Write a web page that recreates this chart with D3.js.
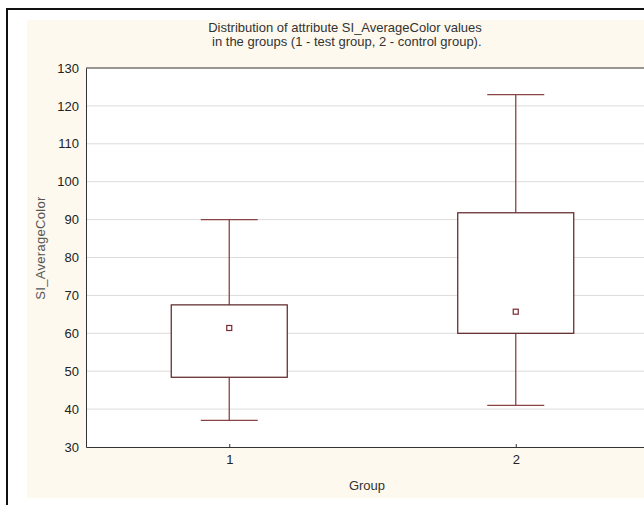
<!DOCTYPE html>
<html>
<head>
<meta charset="utf-8">
<script src="https://cdn.jsdelivr.net/npm/d3@7"></script>
<style>
  body { margin: 0; background: #fff; }
  text { font-family: "Liberation Sans", Arial, sans-serif; }
</style>
</head>
<body>
<div id="chart"></div>
<script>
// values
const groups = ["1", "2"];
const whiskerLow = [37, 41];
const boxLow = [48.4, 60];
const means = [61.4, 65.7];
const boxHigh = [67.5, 91.8];
const whiskerHigh = [90, 123];
const yTicks = [30, 40, 50, 60, 70, 80, 90, 100, 110, 120, 130];

const width = 644, height = 505;
const plot = { left: 86, top: 68, right: 659, bottom: 447 };

const svg = d3.select('#chart')
    .append('svg')
    .attr('width', width)
    .attr('height', height);

// outer frame + cream panel
svg.append('rect')
    .attr('x', 27).attr('y', 20)
    .attr('width', 640).attr('height', 478)
    .attr('fill', '#fdf9ee');
svg.append('path')
    .attr('d', `M7,${height + 5} V9 H${width + 5}`)
    .attr('fill', 'none')
    .attr('stroke', '#111')
    .attr('stroke-width', 2);

let x = d3.scaleLinear()
    .domain([0.5, 2.5])
    .range([plot.left, plot.right]);

let y = d3.scaleLinear()
    .domain([30, 130])
    .range([plot.bottom, plot.top]);

svg.append('rect')
    .attr('x', plot.left).attr('y', plot.top)
    .attr('width', plot.right - plot.left)
    .attr('height', plot.bottom - plot.top)
    .attr('fill', '#fff');

// grid
svg.append('g')
    .selectAll('line')
    .data(yTicks.slice(1, -1))
    .join('line')
    .attr('x1', plot.left).attr('x2', plot.right)
    .attr('y1', d => y(d)).attr('y2', d => y(d))
    .attr('stroke', '#dcdcdc');

// axes
const yAxis = svg.append('g')
    .attr('transform', `translate(${plot.left},0)`)
    .call(d3.axisLeft(y).tickValues(yTicks).tickSize(0).tickPadding(7));
yAxis.select('.domain').attr('stroke', '#333');
yAxis.selectAll('text').attr('font-size', 13).attr('fill', '#222');

const xAxis = svg.append('g')
    .attr('transform', `translate(0,${plot.bottom})`)
    .call(d3.axisBottom(x).tickValues([1, 2]).tickFormat(d => groups[d - 1]).tickSizeInner(-3).tickSizeOuter(0).tickPadding(8));
xAxis.select('.domain').attr('stroke', '#333');
xAxis.selectAll('.tick line').attr('stroke', '#333');
xAxis.selectAll('text').attr('font-size', 13).attr('fill', '#222');

svg.append('line')
    .attr('x1', plot.left).attr('x2', plot.right)
    .attr('y1', plot.top).attr('y2', plot.top)
    .attr('stroke', '#333');

// boxes
const boxHalf = 58, capHalf = 28.5;
const boxes = svg.append('g')
    .selectAll('g')
    .data(groups.map((g, i) => ({ pos: i + 1, i })))
    .join('g');

boxes.append('line')
    .attr('x1', d => x(d.pos)).attr('x2', d => x(d.pos))
    .attr('y1', d => y(whiskerHigh[d.i])).attr('y2', d => y(boxHigh[d.i]))
    .attr('stroke', '#8a4444').attr('stroke-width', 1.3);
boxes.append('line')
    .attr('x1', d => x(d.pos)).attr('x2', d => x(d.pos))
    .attr('y1', d => y(boxLow[d.i])).attr('y2', d => y(whiskerLow[d.i]))
    .attr('stroke', '#8a4444').attr('stroke-width', 1.3);
boxes.append('line')
    .attr('x1', d => x(d.pos) - capHalf).attr('x2', d => x(d.pos) + capHalf)
    .attr('y1', d => y(whiskerHigh[d.i])).attr('y2', d => y(whiskerHigh[d.i]))
    .attr('stroke', '#8a4444').attr('stroke-width', 1.3);
boxes.append('line')
    .attr('x1', d => x(d.pos) - capHalf).attr('x2', d => x(d.pos) + capHalf)
    .attr('y1', d => y(whiskerLow[d.i])).attr('y2', d => y(whiskerLow[d.i]))
    .attr('stroke', '#8a4444').attr('stroke-width', 1.3);
boxes.append('rect')
    .attr('x', d => x(d.pos) - boxHalf)
    .attr('y', d => y(boxHigh[d.i]))
    .attr('width', boxHalf * 2)
    .attr('height', d => y(boxLow[d.i]) - y(boxHigh[d.i]))
    .attr('fill', '#fff')
    .attr('stroke', '#5a2024').attr('stroke-width', 1.2);
boxes.append('rect')
    .attr('x', d => x(d.pos) - 2.5)
    .attr('y', d => y(means[d.i]) - 2.5)
    .attr('width', 5).attr('height', 5)
    .attr('fill', '#fff')
    .attr('stroke', '#7a2a2e').attr('stroke-width', 1.2);

// titles
const title = svg.append('text')
    .attr('x', 345).attr('text-anchor', 'middle')
    .attr('font-size', 13).attr('fill', '#333');
title.append('tspan').attr('x', 345).attr('y', 32)
    .text('Distribution of attribute SI_AverageColor values');
title.append('tspan').attr('x', 345).attr('y', 46)
    .text(' in the groups (1 - test group, 2 - control group).');

svg.append('text')
    .attr('x', 367).attr('y', 490)
    .attr('text-anchor', 'middle')
    .attr('font-size', 13).attr('fill', '#333')
    .text('Group');

svg.append('text')
    .attr('transform', 'translate(45,248) rotate(-90)')
    .attr('text-anchor', 'middle')
    .attr('font-size', 13).attr('fill', '#555')
    .attr('letter-spacing', 0.3)
    .text('SI_AverageColor');
</script>
</body>
</html>
